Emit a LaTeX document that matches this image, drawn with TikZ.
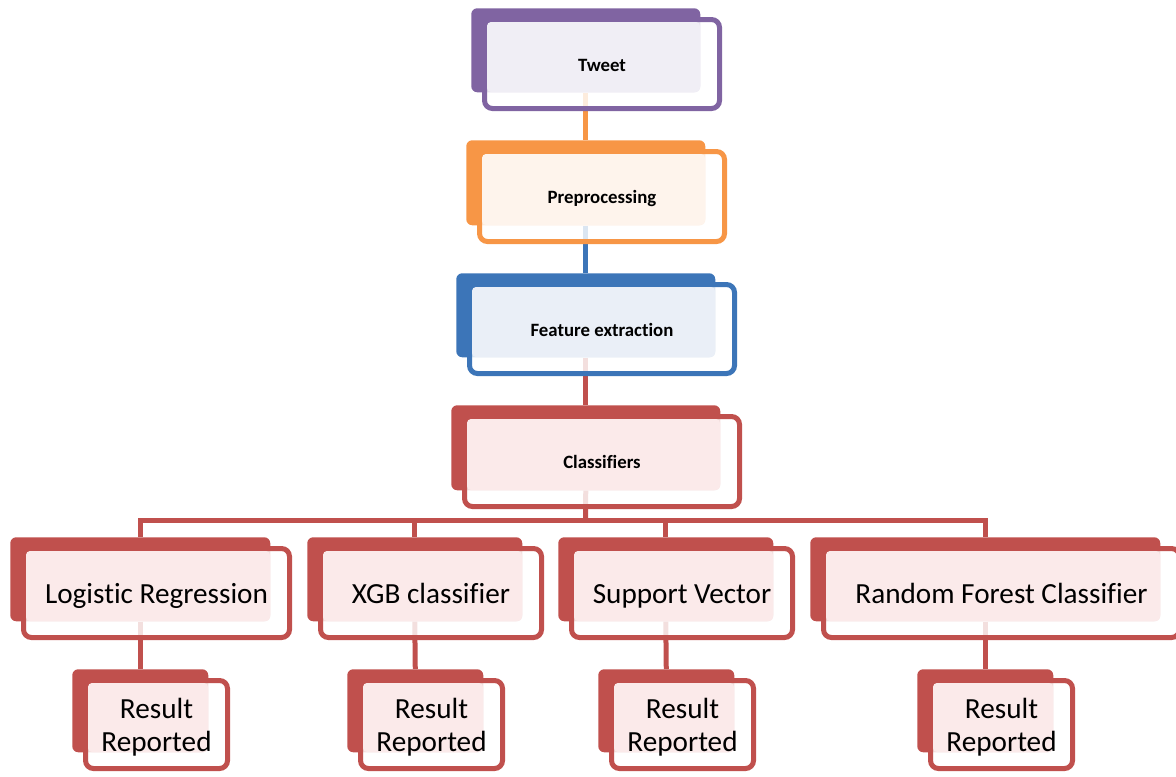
\documentclass[tikz,border=0pt]{standalone}
\usepackage{fontspec}
\setmainfont{Carlito}[Ligatures=NoCommon]
\usetikzlibrary{calc}
\pgfdeclarelayer{background}
\pgfsetlayers{background,main}
\definecolor{cpur}{HTML}{8064A2}\definecolor{tpur}{HTML}{F0EEF5}
\definecolor{cora}{HTML}{F79646}\definecolor{tora}{HTML}{FEF4EC}
\definecolor{cblu}{HTML}{3C75B8}\definecolor{tblu}{HTML}{EAEFF7}
\definecolor{cred}{HTML}{C0504D}\definecolor{tred}{HTML}{FBEAEA}
\tikzset{
  link/.style={line width=3.75pt},
  toplabel/.style={font=\fontsize{14.1}{17}\selectfont\bfseries, anchor=base, yshift=-5.25pt},
  botlabel/.style={font=\fontsize{21.9}{25}\selectfont, anchor=base, yshift=-7.5pt},
  reslabel/.style={font=\fontsize{21.9}{24.75}\selectfont, align=center, yshift=-2.25pt},
}
% name, colour, tint, bx1, by1, bx2, by2, label style, text
\newcommand\mybox[9]{%
  \node[fill=#2, rounded corners=4.5pt, inner sep=0pt, anchor=north west,
        minimum width={(#6-#4)*0.75pt}, minimum height={(#7-#5)*0.75pt}] (#1b) at (#4,#5) {};
  \draw[#2, line width=3.75pt, fill=white, fill opacity=0.82, rounded corners=6pt]
        ({#4+13.5},{#5+11.5}) rectangle ({#6+19.5},{#7+16.5});
  \fill[#3, rounded corners=3pt] ({#4+16},{#5+14}) rectangle (#6,#7);
  \node[#8] (#1) at ({(#4+#6+33)/2},{(#5+#7+28)/2}) {#9};
}
\begin{document}
\begin{tikzpicture}[x=0.75pt,y=-0.75pt]
\path[use as bounding box] (0,0) rectangle (1176,776);
\mybox{tweet}{cpur}{tpur}{471}{8}{700}{92}{toplabel}{Tweet}
\mybox{prep}{cora}{tora}{466}{140}{705}{225}{toplabel}{Preprocessing}
\mybox{feat}{cblu}{tblu}{456}{273}{715}{357}{toplabel}{Feature extraction}
\mybox{cls}{cred}{tred}{451}{405}{720}{490}{toplabel}{Classifiers}
\mybox{lr}{cred}{tred}{10}{537}{270}{621}{botlabel}{Logistic Regression}
\mybox{xgb}{cred}{tred}{307}{537}{522}{621}{botlabel}{XGB classifier}
\mybox{svm}{cred}{tred}{558}{537}{773}{621}{botlabel}{Support Vector}
\mybox{rf}{cred}{tred}{810}{537}{1160}{621}{botlabel}{Random Forest Classifier}
\mybox{r1}{cred}{tred}{72}{669}{208}{752}{reslabel}{Result\\Reported}
\mybox{r2}{cred}{tred}{347}{669}{483}{752}{reslabel}{Result\\Reported}
\mybox{r3}{cred}{tred}{598}{669}{734}{752}{reslabel}{Result\\Reported}
\mybox{r4}{cred}{tred}{917}{669}{1053}{752}{reslabel}{Result\\Reported}
\coordinate (bus) at (585.5,520);
\begin{pgfonlayer}{background}
\draw[link, cora] (tweetb.south) -- (prepb.north);
\draw[link, cblu] (prepb.south) -- (featb.north);
\draw[link, cred] (featb.south) -- (clsb.north);
\draw[link, cred] (clsb.south) -- (bus);
\draw[link, cred] (bus) -| (lrb.north);
\draw[link, cred] (bus) -| (xgbb.north);
\draw[link, cred] (bus) -| (svmb.north);
\draw[link, cred] (bus) -| (rfb.north);
\draw[link, cred] (lrb.south) -- (r1b.north);
\draw[link, cred] (xgbb.south) -- (r2b.north);
\draw[link, cred] (svmb.south) -- (r3b.north);
\draw[link, cred] (rfb.south) -- (r4b.north);
\end{pgfonlayer}
\end{tikzpicture}
\end{document}
